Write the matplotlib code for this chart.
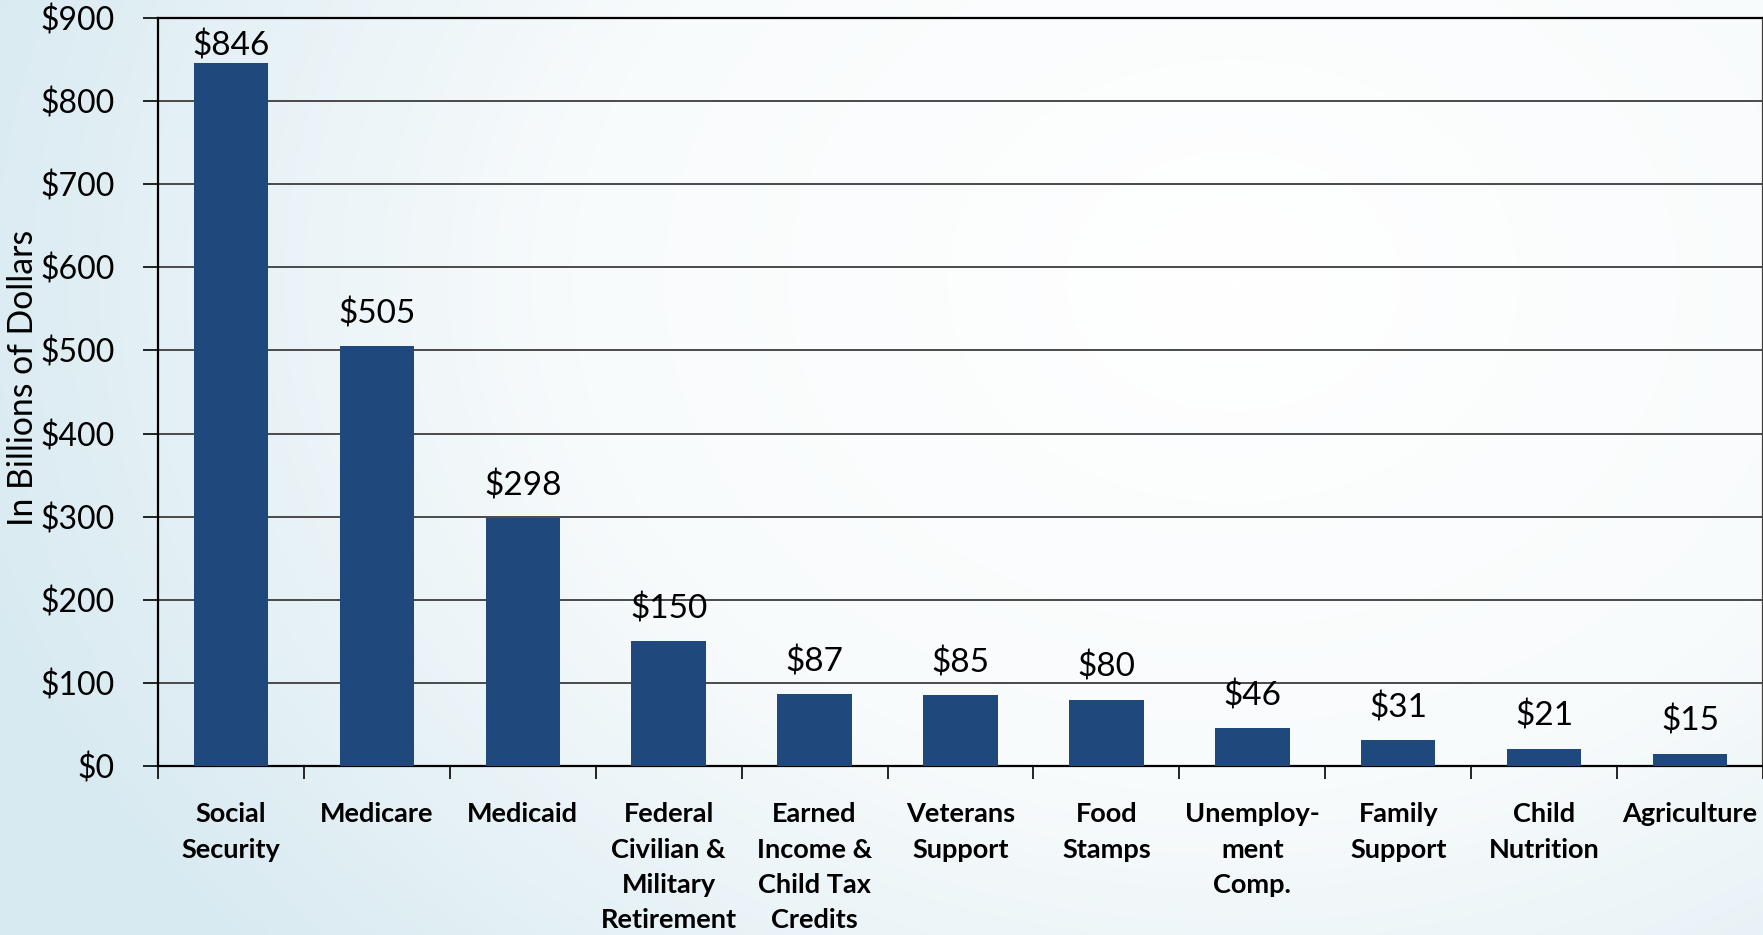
import numpy as np
import matplotlib.pyplot as plt
from matplotlib.colors import LinearSegmentedColormap

plt.rcParams['font.family'] = ['Lato', 'DejaVu Sans']

categories = ['Social\nSecurity', 'Medicare', 'Medicaid',
              'Federal\nCivilian &\nMilitary\nRetirement',
              'Earned\nIncome &\nChild Tax\nCredits',
              'Veterans\nSupport', 'Food\nStamps',
              'Unemploy-\nment\nComp.', 'Family\nSupport',
              'Child\nNutrition', 'Agriculture']
spending = [846, 505, 298, 150, 87, 85, 80, 46, 31, 21, 15]
y_ticks = [0, 100, 200, 300, 400, 500, 600, 700, 800, 900]

bar_color = '#1f497d'

fig = plt.figure(figsize=(17.63, 9.35), dpi=100)

# soft bluish backdrop, strongest at the left and fading to white
bg = fig.add_axes([0, 0, 1, 1], zorder=-10)
yy, xx = np.mgrid[0:1:200j, 0:1:400j]
dist = np.sqrt(((xx - 0.7) / 0.75) ** 2 + ((yy - 0.7) / 1.1) ** 2)
cmap = LinearSegmentedColormap.from_list('bg', ['#ffffff', '#f8fbfc', '#d8eaf1'])
bg.imshow(np.clip(dist, 0, 1), cmap=cmap, aspect='auto', extent=[0, 1, 0, 1],
          origin='lower', interpolation='bicubic')
bg.axis('off')

ax = fig.add_axes([0.0896, 0.1807, 0.9104, 0.8])
ax.set_facecolor('none')

x = np.arange(len(categories))
ax.bar(x, spending, width=0.51, color=bar_color, zorder=3)

# value labels sit above each bar, kept inside the plot area at the top
for xi, v in zip(x, spending):
    ax.text(xi, min(v + 20, 848), '$%d' % v, ha='center', va='bottom',
            fontsize=24, color='black')

ax.set_xlim(-0.5, len(categories) - 0.5)
ax.set_ylim(0, 900)
ax.set_yticks(y_ticks)
ax.set_yticklabels(['$%d' % t for t in y_ticks], fontsize=23)
ax.yaxis.grid(True, color='#4a4a4a', linewidth=1.4, zorder=1)
ax.set_axisbelow(True)

# category names centred under bars, tick marks on the boundaries
ax.set_xticks(x)
ax.set_xticklabels(categories, fontsize=19.5, fontweight='bold', va='top',
                   linespacing=1.57)
ax.tick_params(axis='x', which='major', length=0, pad=26)
ax.set_xticks(np.arange(len(categories) + 1) - 0.5, minor=True)
ax.tick_params(axis='x', which='minor', length=9, width=1.2, direction='out')
ax.tick_params(axis='y', length=11, width=1.2, pad=20)

for s in ax.spines.values():
    s.set_color('black')
    s.set_linewidth(1.6)
ax.spines['right'].set_color('#404040')

ax.set_ylabel('In Billions of Dollars', fontsize=24.3)
ax.yaxis.set_label_coords(-0.074, 0.519)

fig.savefig('out.png', dpi=100)
